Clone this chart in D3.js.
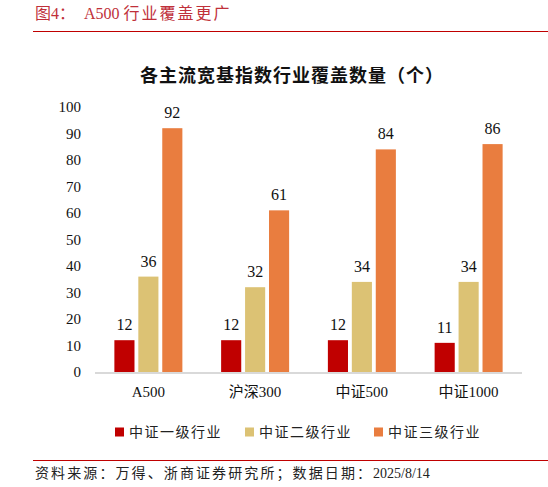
<!DOCTYPE html>
<html>
<head>
<meta charset="utf-8">
<script src="https://cdn.jsdelivr.net/npm/d3@7/dist/d3.min.js"></script>
<style>
  body { margin: 0; background: #fff; }
  svg { display: block; }
</style>
</head>
<body>
<div id="chart"></div>
<script>
const categories = ['A500', '沪深300', '中证500', '中证1000']
const seriesNames = ['中证一级行业', '中证二级行业', '中证三级行业']
const level1 = [12, 12, 12, 11]
const level2 = [36, 32, 34, 34]
const level3 = [92, 61, 84, 86]
const yTicks = [0, 10, 20, 30, 40, 50, 60, 70, 80, 90, 100]

const colors = ['#C00000', '#DCC274', '#E97D3F']
const serif = '"Liberation Serif", "Times New Roman", serif'
const cjk = '"Noto Sans CJK SC", "Noto Sans", sans-serif'

const width = 548
const height = 487
const plot = { left: 95, right: 522, top: 107, bottom: 372 }

const svg = d3
  .select('#chart')
  .append('svg')
  .attr('width', width)
  .attr('height', height)

// header
const header = svg
  .append('text')
  .attr('x', 35)
  .attr('y', 19)
  .attr('fill', '#C0303A')
  .style('font-family', serif + ', ' + cjk)
  .style('font-size', '16px')
header.append('tspan').text('图4：')
header.append('tspan').attr('x', 84).text('A500 ')
header.append('tspan').style('letter-spacing', '2px').text('行业覆盖更广')
svg
  .append('line')
  .attr('x1', 33)
  .attr('x2', 548)
  .attr('y1', 31.5)
  .attr('y2', 31.5)
  .attr('stroke', '#C00000')
  .attr('stroke-width', 1)

// chart title
svg
  .append('text')
  .attr('x', 292)
  .attr('y', 82)
  .attr('text-anchor', 'middle')
  .style('font-family', cjk)
  .style('font-size', '18px')
  .style('font-weight', 700)
  .style('letter-spacing', '1px')
  .attr('fill', '#111')
  .text('各主流宽基指数行业覆盖数量（个）')

const x = d3
  .scaleBand()
  .domain(categories)
  .range([plot.left, plot.right])
  .paddingInner(0)
  .paddingOuter(0)

const inner = d3
  .scaleBand()
  .domain([0, 1, 2])
  .range([x.bandwidth() / 2 - 34, x.bandwidth() / 2 + 34])
  .paddingInner(0.16)

const y = d3
  .scaleLinear()
  .domain([0, 100])
  .range([plot.bottom, plot.top])

const rows = categories.map((c, i) => ({
  cat: c,
  values: [level1[i], level2[i], level3[i]]
}))

// y axis labels
svg
  .append('g')
  .selectAll('text')
  .data(yTicks)
  .enter()
  .append('text')
  .attr('x', 81)
  .attr('y', d => y(d))
  .attr('dy', '0.35em')
  .attr('text-anchor', 'end')
  .style('font-family', serif)
  .style('font-size', '15px')
  .attr('fill', '#111')
  .text(d => d)

const groups = svg
  .append('g')
  .selectAll('g')
  .data(rows)
  .enter()
  .append('g')
  .attr('transform', d => 'translate(' + x(d.cat) + ',0)')

groups
  .selectAll('rect')
  .data(d => d.values)
  .enter()
  .append('rect')
  .attr('x', (d, i) => inner(i))
  .attr('width', inner.bandwidth())
  .attr('y', d => y(d))
  .attr('height', d => y(0) - y(d))
  .attr('fill', (d, i) => colors[i])

groups
  .selectAll('.val')
  .data(d => d.values)
  .enter()
  .append('text')
  .attr('class', 'val')
  .attr('x', (d, i) => inner(i) + inner.bandwidth() / 2)
  .attr('y', d => y(d) - 10)
  .attr('text-anchor', 'middle')
  .style('font-family', serif)
  .style('font-size', '16px')
  .attr('fill', '#111')
  .text(d => d)

// baseline
svg
  .append('line')
  .attr('x1', plot.left)
  .attr('x2', plot.right)
  .attr('y1', y(0) + 1)
  .attr('y2', y(0) + 1)
  .attr('stroke', '#D9D9D9')
  .attr('stroke-width', 2)

// x labels
svg
  .append('g')
  .selectAll('text')
  .data(categories)
  .enter()
  .append('text')
  .attr('x', d => x(d) + x.bandwidth() / 2)
  .attr('y', 397)
  .attr('text-anchor', 'middle')
  .style('font-family', serif + ', ' + cjk)
  .style('font-size', '15px')
  .attr('fill', '#111')
  .text(d => d)

// legend
const legendX = [115, 245, 374]
const legend = svg
  .append('g')
  .selectAll('g')
  .data(seriesNames)
  .enter()
  .append('g')
  .attr('transform', (d, i) => 'translate(' + legendX[i] + ',432)')
legend
  .append('rect')
  .attr('x', 0)
  .attr('y', -4.5)
  .attr('width', 9)
  .attr('height', 9)
  .attr('fill', (d, i) => colors[i])
legend
  .append('text')
  .attr('x', 14)
  .attr('y', 0)
  .attr('dy', '0.36em')
  .style('font-family', cjk)
  .style('font-size', '14px')
  .attr('fill', '#222')
  .style('letter-spacing', '1.5px')
  .text(d => d)

// footer
svg
  .append('line')
  .attr('x1', 33)
  .attr('x2', 548)
  .attr('y1', 460.5)
  .attr('y2', 460.5)
  .attr('stroke', '#C00000')
  .attr('stroke-width', 1)
const footer = svg
  .append('text')
  .attr('x', 35)
  .attr('y', 478)
  .style('font-family', serif + ', ' + cjk)
  .style('font-size', '14px')
  .attr('fill', '#222')
footer
  .append('tspan')
  .style('letter-spacing', '2.1px')
  .text('资料来源：万得、浙商证券研究所；数据日期：')
footer.append('tspan').attr('x', 373).text('2025/8/14')
</script>
</body>
</html>
